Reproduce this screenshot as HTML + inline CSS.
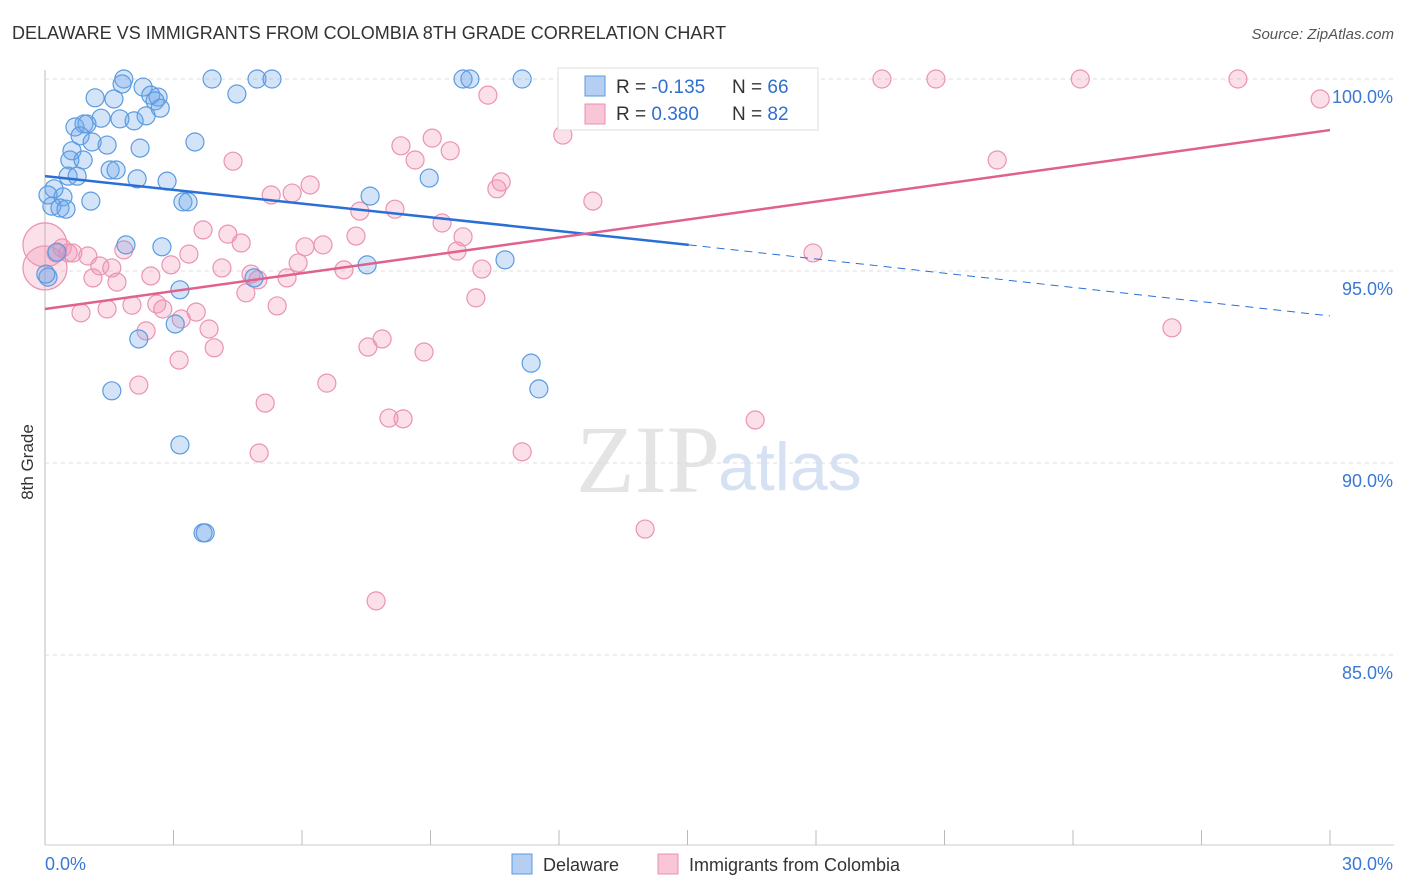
<!DOCTYPE html>
<html><head><meta charset="utf-8"><style>
body{margin:0;background:#fff;font-family:"Liberation Sans",sans-serif;}
#wrap{position:relative;width:1406px;height:892px;overflow:hidden;}
</style></head><body>
<div id="wrap">
<svg id="svg" width="1406" height="892" xmlns="http://www.w3.org/2000/svg">
<text x="12" y="39" font-size="18" fill="#333">DELAWARE VS IMMIGRANTS FROM COLOMBIA 8TH GRADE CORRELATION CHART</text>
<text x="1394" y="39" font-size="15" fill="#555" text-anchor="end" font-style="italic">Source: ZipAtlas.com</text>
<text x="33" y="462" font-size="17" fill="#333" text-anchor="middle" transform="rotate(-90 33 462)">8th Grade</text>
<text x="720" y="492" font-size="96" fill="#e4e4e4" text-anchor="end" font-family="Liberation Serif">ZIP</text>
<text x="718" y="490" font-size="68" fill="#d6e2f3">atlas</text>
<g id="grid"></g><g id="marks"></g><g id="lines"></g>
<g>
<rect x="558" y="68" width="260" height="62" fill="#fff" stroke="#ddd"/>
<rect x="585" y="76" width="20" height="20" fill="#b5cff2" stroke="#5b9be0"/>
<rect x="585" y="104" width="20" height="20" fill="#f8c6d6" stroke="#e890b0"/>
<text x="616" y="93" font-size="19" fill="#333">R = <tspan fill="#2f6fd0">-0.135</tspan></text>
<text x="732" y="93" font-size="19" fill="#333">N = <tspan fill="#2f6fd0">66</tspan></text>
<text x="616" y="120" font-size="19" fill="#333">R = <tspan fill="#2f6fd0"> 0.380</tspan></text>
<text x="732" y="120" font-size="19" fill="#333">N = <tspan fill="#2f6fd0">82</tspan></text>
</g>
<g>
<rect x="512" y="854" width="20" height="20" fill="#b5cff2" stroke="#5b9be0"/>
<text x="543" y="871" font-size="18" fill="#333">Delaware</text>
<rect x="658" y="854" width="20" height="20" fill="#f8c6d6" stroke="#e890b0"/>
<text x="689" y="871" font-size="18" fill="#333">Immigrants from Colombia</text>
</g>
</svg>
</div>
<script>
const xTicks=[0,30];
const yTicks=[100,95,90,85];
const blueX=[1.84,1.80,3.90,4.95,5.30,9.76,9.92,11.14,2.29,4.48,1.17,1.61,2.47,2.64,2.57,2.69,2.36,1.75,1.31,2.08,0.70,0.91,0.98,0.82,1.10,1.45,0.63,2.22,3.50,0.58,0.89,1.52,1.66,0.54,0.75,2.15,2.85,0.21,7.59,8.97,0.07,0.42,1.07,0.16,0.35,0.49,3.22,3.34,1.89,2.73,0.28,10.74,7.52,0.07,4.88,3.15,3.04,2.19,11.35,1.56,11.53,3.15,3.69,3.74,0.02];
const blueY=[100,99.87,100,100,100,100,100,100,99.79,99.61,99.51,99.48,99.58,99.53,99.43,99.24,99.04,98.96,98.98,98.91,98.75,98.83,98.83,98.52,98.36,98.28,98.13,98.20,98.36,97.89,97.89,97.63,97.63,97.47,97.47,97.40,97.34,97.14,96.95,97.42,96.98,96.93,96.82,96.69,96.64,96.61,96.80,96.80,95.68,95.63,95.49,95.29,95.16,94.84,94.82,94.51,93.62,93.23,92.60,91.88,91.93,90.47,88.18,88.18,94.92];
const pinkX=[0,0,0.40,0.26,0.54,0.65,1.00,1.28,1.56,1.84,1.12,1.68,2.47,2.94,3.36,0.84,1.45,2.03,2.61,2.75,3.18,3.53,3.83,3.95,3.13,2.36,2.19,3.69,4.27,4.58,4.39,4.13,4.81,4.97,4.69,5.42,5.14,5.00,5.28,5.77,6.19,5.91,5.65,6.07,6.49,6.58,6.98,7.26,7.35,7.54,7.87,7.73,8.03,8.36,8.17,8.31,8.64,9.04,9.46,9.27,9.62,9.76,10.20,10.06,8.85,10.34,10.55,10.65,11.14,12.09,12.79,13.82,14.01,16.58,17.93,19.54,20.80,22.23,24.17,26.31,27.85,29.77];
const pinkY=[95.68,95.08,95.60,95.47,95.47,95.47,95.39,95.13,95.08,95.55,94.82,94.71,94.87,95.16,95.44,93.91,94.01,94.11,94.14,94.01,93.75,93.93,93.49,93.00,92.68,93.44,92.03,96.07,95.96,95.73,97.86,95.08,94.92,94.77,94.43,94.09,91.56,90.26,96.98,97.03,97.24,95.21,94.82,95.63,95.68,92.08,95.03,95.91,96.56,93.02,93.23,86.41,91.17,91.15,96.61,98.26,97.89,98.46,98.13,96.25,95.52,95.89,95.05,94.30,92.89,99.58,97.14,97.32,90.29,98.54,96.82,99.97,88.28,91.12,95.47,100,100,97.89,100,93.52,100,99.48];
const pinkBig=[0,1];
const blueTrend=[[0,97.47],[15.03,95.68],[30,93.83]];
const pinkTrend=[[0,94.01],[30,98.67]];
const X=v=>45+v/30*1285, Y=v=>79+(100-v)*38.4;
const NS='http://www.w3.org/2000/svg';
function mk(t,a,p){const e=document.createElementNS(NS,t);for(const k in a)e.setAttribute(k,a[k]);p.appendChild(e);return e;}
const grid=document.getElementById('grid'),marks=document.getElementById('marks'),lines=document.getElementById('lines');
mk('line',{x1:45,y1:70,x2:45,y2:845,stroke:'#bbb'},grid);
mk('line',{x1:45,y1:845,x2:1394,y2:845,stroke:'#ccc'},grid);
for(let i=0;i<=10;i++){const l=mk('line',{x1:X(i*3),y1:830,x2:X(i*3),y2:845,stroke:'#bbb'},grid);

}
yTicks.forEach(v=>{const l=mk('line',{x1:45,y1:Y(v),x2:1394,y2:Y(v),stroke:'#ddd','stroke-dasharray':'4,4'},grid);


const t=mk('text',{x:1393,y:Y(v)+24,'font-size':18,fill:'#3a78d4','text-anchor':'end'},grid);t.textContent=v.toFixed(1)+'%';

});
xTicks.forEach((v,i)=>{const t=mk('text',{x:i?1393:45,y:870,'font-size':18,fill:'#3a78d4','text-anchor':i?'end':'start'},grid);t.textContent=v.toFixed(1)+'%';

});
pinkX.forEach((x,i)=>{const big=pinkBig.includes(i);const c=mk('circle',{cx:X(x),cy:Y(pinkY[i]),r:big?22:9,fill:'rgba(242,150,182,0.3)',stroke:'#eb93b3','stroke-width':1.2},marks);

});
blueX.forEach((x,i)=>{const c=mk('circle',{cx:X(x),cy:Y(blueY[i]),r:9,fill:'rgba(110,165,235,0.3)',stroke:'#5b9be0','stroke-width':1.2},marks);

});
let l=mk('line',{x1:X(blueTrend[0][0]),y1:Y(blueTrend[0][1]),x2:X(blueTrend[1][0]),y2:Y(blueTrend[1][1]),stroke:'#2a6fd6','stroke-width':2.5},lines);


l=mk('line',{x1:X(blueTrend[1][0]),y1:Y(blueTrend[1][1]),x2:X(blueTrend[2][0]),y2:Y(blueTrend[2][1]),stroke:'#2a6fd6','stroke-width':1,'stroke-dasharray':'8,6'},lines);


l=mk('line',{x1:X(pinkTrend[0][0]),y1:Y(pinkTrend[0][1]),x2:X(pinkTrend[1][0]),y2:Y(pinkTrend[1][1]),stroke:'#e0608e','stroke-width':2.5},lines);


</script>
</body></html>
